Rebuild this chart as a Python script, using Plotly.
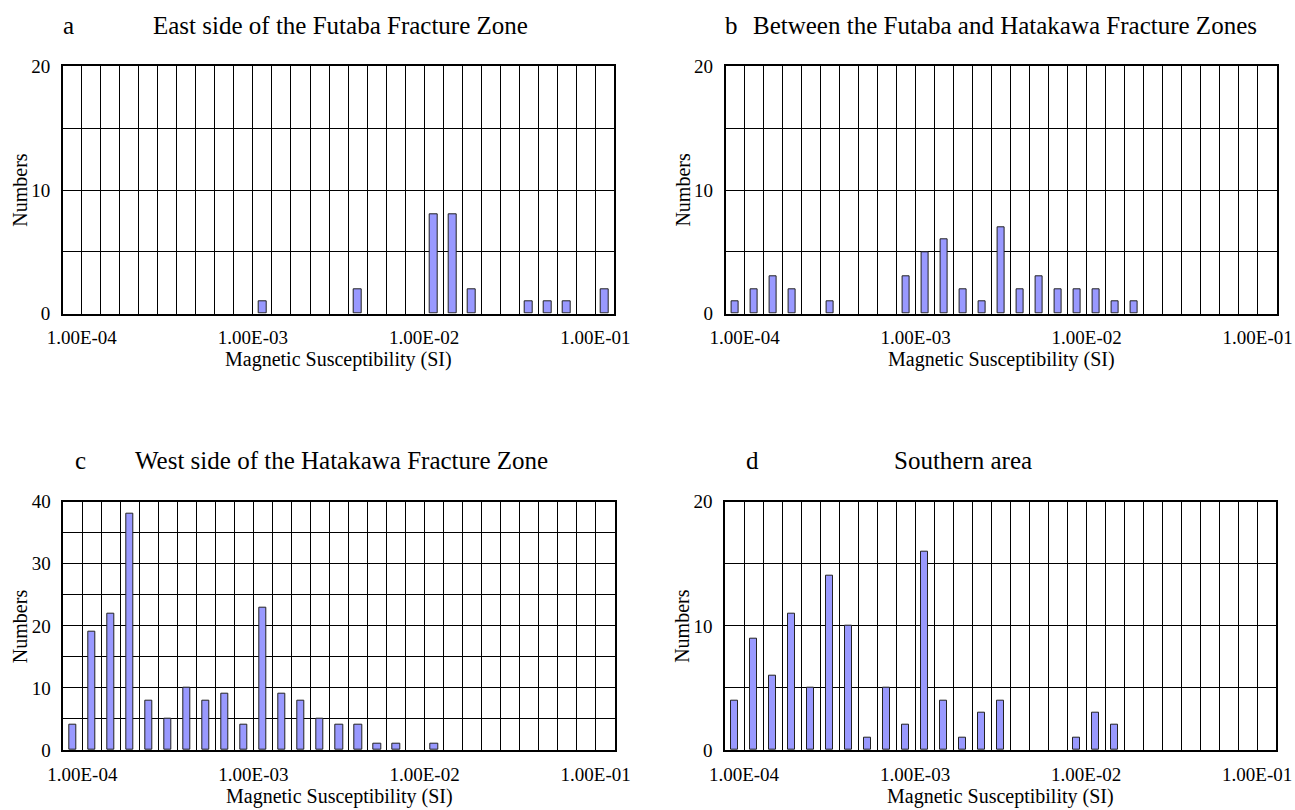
import plotly.graph_objects as go

# 29 bins, 9 per decade; labels at bin boundaries
n_bins = 29
bin_index = list(range(n_bins))
tick_labels = {0.5: "1.00E-04", 9.5: "1.00E-03", 18.5: "1.00E-02", 27.5: "1.00E-01"}

counts_a = [0, 0, 0, 0, 0, 0, 0, 0, 0, 0, 1, 0, 0, 0, 0, 2, 0, 0, 0, 8, 8, 2, 0, 0, 1, 1, 1, 0, 2]
counts_b = [1, 2, 3, 2, 0, 1, 0, 0, 0, 3, 5, 6, 2, 1, 7, 2, 3, 2, 2, 2, 1, 1, 0, 0, 0, 0, 0, 0, 0]
counts_c = [4, 19, 22, 38, 8, 5, 10, 8, 9, 4, 23, 9, 8, 5, 4, 4, 1, 1, 0, 1, 0, 0, 0, 0, 0, 0, 0, 0, 0]
counts_d = [4, 9, 6, 11, 5, 14, 10, 1, 5, 2, 16, 4, 1, 3, 4, 0, 0, 0, 1, 3, 2, 0, 0, 0, 0, 0, 0, 0, 0]

panel_letters = ["a", "b", "c", "d"]
panel_titles = [
    "East side of the Futaba Fracture Zone",
    "Between the Futaba and Hatakawa Fracture Zones",
    "West side of the Hatakawa Fracture Zone",
    "Southern area",
]
y_max = [20, 20, 40, 20]
x_title = "Magnetic Susceptibility (SI)"
y_title = "Numbers"

W, H = 1295, 810
FONT = "Liberation Serif, Times New Roman, serif"

# plot areas in pixels: (left, right, top, bottom)
areas = [
    (62.7, 614.4, 66.3, 313.7),
    (725.6, 1276.7, 66.3, 313.7),
    (63.3, 614.7, 501.7, 750.0),
    (725.0, 1276.2, 501.7, 750.0),
]

fig = go.Figure()
series = [counts_a, counts_b, counts_c, counts_d]

boundaries = [i + 0.5 for i in range(n_bins - 1)]
xticktext = [tick_labels.get(b, "") for b in boundaries]

annotations = []
for k in range(4):
    l, r, t, b = areas[k]
    sfx = "" if k == 0 else str(k + 1)
    fig.add_trace(go.Bar(
        x=bin_index, y=[v if v > 0 else None for v in series[k]], width=0.4,
        marker=dict(color="#9999FF", line=dict(color="#222222", width=1)),
        xaxis="x" + sfx, yaxis="y" + sfx, showlegend=False,
    ))
    xd = [l / W, r / W]
    yd = [1 - b / H, 1 - t / H]
    ym = y_max[k]
    yt = list(range(0, ym + 1, 5))
    ytt = [str(v) if v % 10 == 0 else "" for v in yt]
    fig.update_layout(**{
        "xaxis" + sfx: dict(
            domain=xd, anchor="y" + sfx, range=[-0.5, n_bins - 0.5],
            tickmode="array", tickvals=boundaries, ticktext=xticktext,
            showgrid=True, gridcolor="#000000", gridwidth=1,
            showline=True, linecolor="#000000", linewidth=1.5, mirror=True,
            ticks="", zeroline=False, ticklabelstandoff=6, automargin=False,
            tickfont=dict(family=FONT, size=19, color="#000000"),
        ),
        "yaxis" + sfx: dict(
            domain=yd, anchor="x" + sfx, range=[0, ym],
            tickmode="array", tickvals=yt, ticktext=ytt,
            showgrid=True, gridcolor="#000000", gridwidth=1,
            showline=True, linecolor="#000000", linewidth=1.5, mirror=True,
            ticks="", zeroline=False, ticklabelstandoff=7, automargin=False,
            tickfont=dict(family=FONT, size=19, color="#000000"),
        ),
    })
    # axis titles
    annotations.append(dict(
        x=(l + r) / 2 / W, y=1 - (b + 46) / H, xref="paper", yref="paper",
        text=x_title, showarrow=False, xanchor="center", yanchor="middle",
        font=dict(family=FONT, size=20, color="#000000"),
    ))
    annotations.append(dict(
        x=(l - 43) / W, y=1 - (t + b) / 2 / H, xref="paper", yref="paper",
        text=y_title, showarrow=False, textangle=-90, xanchor="center", yanchor="middle",
        font=dict(family=FONT, size=20, color="#000000"),
    ))

# panel titles (letter + text), pixel positions
title_pos = [
    ((68.7, 25), (151, 25)),
    ((731, 25), (751, 25)),
    ((80, 460), (132.7, 460)),
    ((752, 460), (892, 460)),
]
for k in range(4):
    (lx, ly), (tx, ty) = title_pos[k]
    annotations.append(dict(
        x=lx / W, y=1 - ly / H, xref="paper", yref="paper", text=panel_letters[k],
        showarrow=False, xanchor="center", yanchor="middle",
        font=dict(family=FONT, size=25, color="#000000"),
    ))
    annotations.append(dict(
        x=tx / W, y=1 - ty / H, xref="paper", yref="paper", text=panel_titles[k],
        showarrow=False, xanchor="left", yanchor="middle",
        font=dict(family=FONT, size=25, color="#000000"),
    ))

fig.update_layout(
    width=W, height=H, margin=dict(l=0, r=0, t=0, b=0),
    paper_bgcolor="white", plot_bgcolor="white",
    annotations=annotations, bargap=0,
)
fig.write_html("out.html")
